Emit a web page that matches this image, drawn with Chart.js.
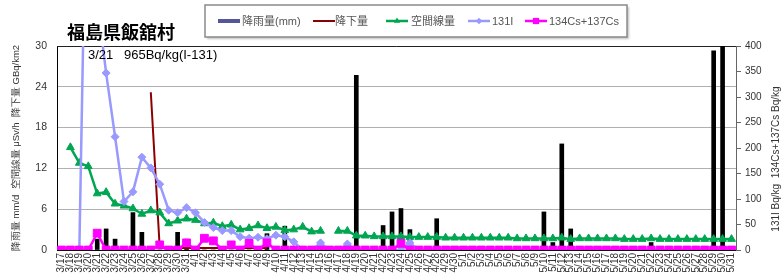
<!DOCTYPE html>
<html>
<head>
<meta charset="utf-8">
<script src="https://cdn.jsdelivr.net/npm/chart.js@4.4.1/dist/chart.umd.min.js"></script>
<style>
  html, body { margin: 0; padding: 0; background: #fff; }
  #wrap { position: relative; width: 781px; height: 275px; }
</style>
</head>
<body>
<div id="wrap"><canvas id="chart" width="781" height="275"></canvas></div>
<script>
// dates on the category axis
var dates = ['3/17','3/18','3/19','3/20','3/21','3/22','3/23','3/24','3/25','3/26','3/27','3/28','3/29','3/30','3/31',
  '4/1','4/2','4/3','4/4','4/5','4/6','4/7','4/8','4/9','4/10','4/11','4/12','4/13','4/14','4/15',
  '4/16','4/17','4/18','4/19','4/20','4/21','4/22','4/23','4/24','4/25','4/26','4/27','4/28','4/29','4/30',
  '5/1','5/2','5/3','5/4','5/5','5/6','5/7','5/8','5/9','5/10','5/11','5/12','5/13','5/14','5/15','5/16',
  '5/17','5/18','5/19','5/20','5/21','5/22','5/23','5/24','5/25','5/26','5/27','5/28','5/29','5/30','5/31'];

// 降雨量 mm/d (left axis)
var rain = [0,0,0,0,1.6,3.1,1.6,0,5.5,2.6,0,0,0,2.6,0.3,
  0,0,0,0,0,0,0,0,2.4,0,3.5,0,0,0,0,
  0.5,0,0,25.7,0,0,3.6,5.6,6.1,3.0,0,0,4.6,0,0,
  0,0,0,0,0,0,0,0,0,5.6,1.1,15.6,3.1,0,0,0,
  0,0,0,0,0,1.1,0,0,0,0,0,0,29.3,30.5,0];

// 降下量 GBq/km2 (left axis)
var fallout = [null,null,null,null,null,null,null,null,null,null,23.2,0.3,0.3,0.3,0.3,
  0.3,0.3,0.3,0.3,0.3,0.3,0.3,0.3,0.3,null,null,null,null,null,null,
  null,null,null,null,null,null,null,null,null,null,null,null,null,null,null,
  null,null,null,null,null,null,null,null,null,null,null,null,null,null,null,null,
  null,null,null,null,null,null,null,null,null,null,null,null,null,null,null];

// 空間線量 μSv/h (left axis)
var dose = [null,15.1,12.8,12.3,8.3,8.5,6.8,6.5,6.1,5.3,5.8,5.5,3.9,4.3,4.6,
  4.4,3.9,4.0,3.5,3.7,3.0,3.2,3.6,3.2,3.4,2.9,3.0,3.4,2.7,2.8,
  null,2.8,2.8,2.1,2.1,2.0,2.0,2.0,2.0,1.9,1.9,1.9,1.9,1.8,1.8,
  1.8,1.8,1.8,1.8,1.8,1.8,1.7,1.7,1.7,1.7,1.7,1.8,1.6,1.7,1.7,1.7,
  1.7,1.7,1.6,1.6,1.6,1.7,1.6,1.6,1.6,1.6,1.6,1.6,1.6,1.6,1.6];

// 131I Bq/kg (right axis)
var iodine = [null,null,0,965,490,347,222,95,114,182,161,129,78,73,83,
  73,54,44,38,38,26,23,25,22,29,26,16,0,0,14,
  0,0,12,0,0,0,0,0,0,14,0,null,null,null,null,
  null,null,null,null,null,null,null,null,null,null,null,null,null,null,null,null,
  null,null,null,null,null,null,null,null,null,null,null,null,null,null,null];

// 134Cs+137Cs Bq/kg (right axis)
var cesium = [0,0,0,0,33,0,0,0,0,0,0,10,0,0,14,
  0,23,18,0,10,0,13,0,14,0,0,0,0,0,0,
  0,0,0,0,0,0,0,0,13,0,0,0,0,0,0,
  0,0,0,0,0,0,0,0,0,0,0,0,0,0,0,0,
  0,0,0,0,0,0,0,0,0,0,0,0,0,0,0];

var leftTicks = [0, 30, 6];
var rightTicks = [0, 400, 50];
var placeName = '福島県飯舘村';
var noteDate = '3/21';
var noteValue = '965Bq/kg(I-131)';
var leftTitle = '降雨量 mm/d  空間線量 μSv/h  降下量 GBq/km2';
var rightTitle = '131I Bq/kg  134Cs+137Cs Bq/kg';

Chart.defaults.font.family = "'Liberation Sans', Arial, sans-serif";
Chart.defaults.color = '#333';

// where each legend entry starts (swatch x, text x)
var legendPos = [[218, 242], [313, 335], [386, 411], [468, 492], [525, 549]];

var deco = {
  id: 'deco',
  beforeDatasetsDraw: function (chart) {
    var ctx = chart.ctx;
    var a = chart.chartArea;
    ctx.save();
    ctx.strokeStyle = '#222';
    ctx.lineWidth = 1;
    ctx.beginPath();
    ctx.moveTo(a.left, a.top + 0.5);
    ctx.lineTo(a.right, a.top + 0.5);
    ctx.stroke();
    ctx.restore();
  },
  afterDraw: function (chart) {
    var ctx = chart.ctx;
    ctx.save();
    ctx.fillStyle = '#000';
    ctx.textBaseline = 'middle';
    ctx.font = 'bold 18px "Noto Sans CJK JP"';
    ctx.fillText(placeName, 67, 32);
    ctx.font = '13px "Liberation Sans"';
    ctx.fillText(noteDate, 88, 55);
    ctx.fillText(noteValue, 124, 55);

    // right axis title, reads bottom to top
    ctx.save();
    ctx.translate(776, 159);
    ctx.rotate(-Math.PI / 2);
    ctx.textAlign = 'center';
    ctx.fillStyle = '#333';
    ctx.font = '10px "Liberation Sans"';
    ctx.fillText(rightTitle, 0, 0);
    ctx.restore();

    // legend box
    ctx.shadowColor = 'rgba(0,0,0,0.25)';
    ctx.shadowOffsetX = 2;
    ctx.shadowOffsetY = 2;
    ctx.shadowBlur = 2;
    ctx.fillStyle = '#fff';
    ctx.fillRect(205, 5, 422, 32);
    ctx.shadowColor = 'transparent';
    ctx.strokeStyle = '#8a8a8a';
    ctx.lineWidth = 1.5;
    ctx.strokeRect(205, 5, 422, 32);

    var y = 21;
    chart.data.datasets.forEach(function (ds, i) {
      var sx = legendPos[i][0], tx = legendPos[i][1];
      if (ds.type === 'bar') {
        ctx.fillStyle = '#55559a';
        ctx.fillRect(sx, y - 2, 22, 4);
      } else {
        ctx.strokeStyle = ds.borderColor;
        ctx.lineWidth = ds.borderWidth;
        ctx.beginPath();
        ctx.moveTo(sx, y);
        ctx.lineTo(sx + 22, y);
        ctx.stroke();
        if (ds.pointRadius > 0) {
          ctx.fillStyle = ds.backgroundColor;
          ctx.strokeStyle = ds.borderColor;
          ctx.lineWidth = 1;
          Chart.helpers.drawPoint(ctx, {pointStyle: ds.pointStyle, radius: ds.pointRadius * 0.8, rotation: 0}, sx + 11, y);
        }
      }
      ctx.fillStyle = '#555';
      ctx.font = '11px "Liberation Sans", "Noto Sans CJK JP"';
      ctx.fillText(ds.label, tx, y + 1);
    });
    ctx.restore();
  }
};

new Chart(document.getElementById('chart'), {
  type: 'bar',
  data: {
    labels: dates,
    datasets: [
      {type: 'bar', label: '降雨量(mm)', data: rain, yAxisID: 'y', backgroundColor: '#000', barThickness: 4, order: 5},
      {type: 'line', label: '降下量', data: fallout, yAxisID: 'y', borderColor: '#8b0000', backgroundColor: '#8b0000',
        borderWidth: 2, pointRadius: 0, tension: 0, order: 4},
      {type: 'line', label: '空間線量', data: dose, yAxisID: 'y', borderColor: '#00a651', backgroundColor: '#00a651',
        borderWidth: 2.5, pointStyle: 'triangle', pointRadius: 4.5, pointBorderWidth: 1, tension: 0, order: 3},
      {type: 'line', label: '131I', data: iodine, yAxisID: 'y1', borderColor: '#9999ff', backgroundColor: '#9999ff',
        borderWidth: 2.5, pointStyle: 'rectRot', pointRadius: 4, pointBorderWidth: 1, tension: 0, order: 2},
      {type: 'line', label: '134Cs+137Cs', data: cesium, yAxisID: 'y1', borderColor: '#ff00ff', backgroundColor: '#ff00ff',
        borderWidth: 2.5, pointStyle: 'rect', pointRadius: 5.5, pointBorderWidth: 1, tension: 0, order: 1}
    ]
  },
  options: {
    responsive: false,
    animation: false,
    layout: {padding: {top: 46, left: 0, right: 0, bottom: 0}},
    plugins: {legend: {display: false}, tooltip: {enabled: false}},
    scales: {
      x: {
        offset: true,
        grid: {display: false, drawTicks: false},
        border: {color: '#000', width: 1},
        ticks: {autoSkip: false, maxRotation: 90, minRotation: 90, padding: 3, font: {size: 10}, color: '#333'},
        afterFit: function (s) { s.height = 25; }
      },
      y: {
        position: 'left',
        min: leftTicks[0], max: leftTicks[1],
        ticks: {stepSize: leftTicks[2], padding: 10, font: {size: 10.5}, color: '#333'},
        grid: {color: '#b0b0b0', drawTicks: false},
        border: {color: '#000', width: 1},
        title: {display: true, text: leftTitle, font: {size: 9.5}, color: '#333', padding: {top: 11, bottom: 0}},
        afterFit: function (s) { s.width = 57; }
      },
      y1: {
        position: 'right',
        min: rightTicks[0], max: rightTicks[1],
        ticks: {stepSize: rightTicks[2], padding: 4, font: {size: 10}, color: '#333'},
        grid: {drawOnChartArea: false, tickLength: 5, color: '#666'},
        border: {color: '#666', width: 1},
        afterFit: function (s) { s.width = 45; }
      }
    }
  },
  plugins: [deco]
});
</script>
</body>
</html>
